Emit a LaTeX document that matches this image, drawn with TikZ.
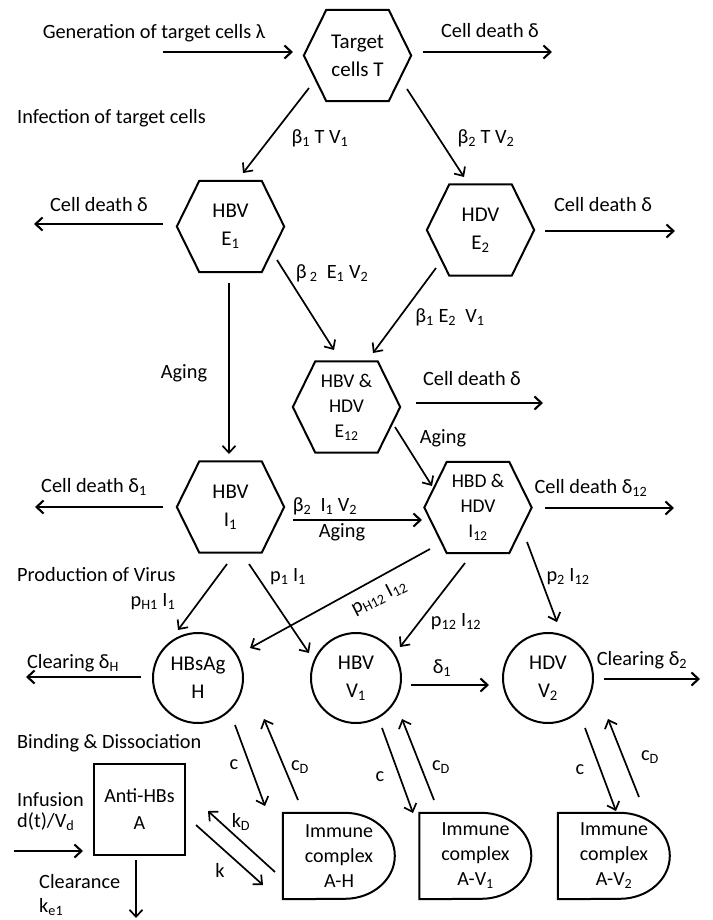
\documentclass[tikz,border=0pt]{standalone}
\usepackage{fontspec}
\setmainfont{Carlito}
\usetikzlibrary{arrows.meta,calc}
\newcommand\sbs[1]{\textsubscript{#1}}
\newcommand\hexdraw[1]{\draw[shapeline] (#1.west) -- ([xshift=22.5pt]#1.north west) -- ([xshift=-22.5pt]#1.north east) -- (#1.east) -- ([xshift=-22.5pt]#1.south east) -- ([xshift=22.5pt]#1.south west) -- cycle;}
\newcommand\ddraw[1]{\draw[shapeline] (#1.north west) -- ++(62,0) arc[start angle=90,end angle=-90,x radius=50,y radius=43] -- (#1.south west) -- cycle;}
\tikzset{
  shapeline/.style={line width=2pt,line join=miter},
  hexn/.style={rectangle,minimum width=107pt,minimum height=91pt,inner sep=0pt,align=center,font=\fontsize{21}{28}\selectfont},
  hexs/.style={hexn,font=\fontsize{19.5}{25}\selectfont},
  circn/.style={circle,draw,line width=2pt,minimum size=90pt,inner sep=0pt,align=center,font=\fontsize{21}{28}\selectfont},
  boxn/.style={rectangle,draw,line width=2pt,minimum width=91pt,minimum height=91pt,inner sep=0pt,align=center,font=\fontsize{20}{27}\selectfont},
  dn/.style={rectangle,minimum width=112pt,minimum height=86pt,inner sep=0pt,align=center,font=\fontsize{20}{25}\selectfont},
  lab/.style={inner sep=0pt,font=\fontsize{20.3}{22}\selectfont},
  arr/.style={line width=1.7pt,-{Straight Barb[length=7pt,width=13pt,line width=1.7pt]}},
  arrb/.style={line width=2.3pt,-{Straight Barb[length=7pt,width=13pt,line width=2.1pt]}},
}
\begin{document}
\begin{tikzpicture}[x=1pt,y=1pt]
\useasboundingbox (0,0) rectangle (712,-920);
% nodes
\node[hexn] (T) at (357.5,-55.5) {Target\\cells T};
\node[hexn] (E1) at (230.5,-226.5) {HBV\\E\sbs{1}};
\node[hexn] (E2) at (480.5,-230) {HDV\\E\sbs{2}};
\node[hexs] (E12) at (346.5,-407) {HBV \&\\HDV\\E\sbs{12}};
\node[hexn] (I1) at (230.5,-507) {HBV\\I\sbs{1}};
\node[hexs] (I12) at (478,-507.5) {HBD \&\\HDV\\I\sbs{12}};
\foreach \n in {T,E1,E2,E12,I1,I12} {\hexdraw{\n}}
\node[circn] (H) at (198,-678) {HBsAg\\H};
\node[circn] (V1) at (356,-678) {HBV\\V\sbs{1}};
\node[circn] (V2) at (548,-678) {HDV\\V\sbs{2}};
\node[boxn] (A) at (139.5,-809.5) {Anti-HBs\\A};
\node[dn] (AH) at (339,-856) {Immune\\complex\\A-H};
\node[dn] (AV1) at (475.5,-856) {Immune\\complex\\A-V\sbs{1}};
\node[dn] (AV2) at (614,-856) {Immune\\complex\\A-V\sbs{2}};
\foreach \n in {AH,AV1,AV2} {\ddraw{\n}}
% free ends
\coordinate (gen) at (163,-52);
\coordinate (dT) at (552,-52);
\coordinate (dE1) at (34,-224);
\coordinate (dE2) at (675,-231);
\coordinate (dE12) at (543,-403);
\coordinate (dI1) at (35,-507);
\coordinate (dI12) at (674,-508);
\coordinate (cH) at (26,-677);
\coordinate (cV2) at (700,-679);
\coordinate (inf) at (14,-851);
\coordinate (clr) at (136,-918);
% connectors
\draw[arrb] (gen) -- ($(T)+(-64.5,3.5)$);
\draw[arrb] ($(T)+(65.5,3.5)$) -- (dT);
\draw[arr] ($(T)+(-48.5,-32.5)$) -- ($(E1)+(12.5,53.5)$);
\draw[arr] ($(T)+(49.5,-33.5)$) -- ($(E2)+(-16.5,53)$);
\draw[arrb] ($(E1)+(-67.5,2.5)$) -- (dE1);
\draw[arrb] ($(E2)+(64.5,-1)$) -- (dE2);
\draw[arr] ($(E1)+(46.5,-33.5)$) -- ($(E12)+(-12.5,57)$);
\draw[arr] ($(E2)+(-44.5,-38)$) -- ($(E12)+(26.5,54)$);
\draw[arr] ($(E1)+(-1.5,-56.5)$) -- ($(I1)+(-1.5,53)$);
\draw[arrb] ($(E12)+(69.5,4)$) -- (dE12);
\draw[arr] ($(E12)+(48.5,-20)$) -- ($(I12)+(-46,21.5)$);
\draw[arrb] ($(I1)+(-67.5,0)$) -- (dI1);
\draw[arrb] ($(I1)+(62.5,-13)$) -- ($(I12)+(-56,-12.5)$);
\draw[arrb] ($(I12)+(67,-0.5)$) -- (dI12);
\draw[arr] ($(I1)+(-3.5,-57)$) -- ($(H)+(-20,48)$);
\draw[arr] ($(I1)+(18.5,-57)$) -- ($(V1)+(-47,25)$);
\draw[arr] ($(I12)+(-48,-41.5)$) -- ($(H)+(52,30)$);
\draw[arr] ($(I12)+(-13,-55.5)$) -- ($(V1)+(44,31)$);
\draw[arr] ($(I12)+(49,-34.5)$) -- ($(V2)+(9,56)$);
\draw[arrb] ($(H)+(-57,1)$) -- (cH);
\draw[arrb] ($(V1)+(55,-7)$) -- ($(V2)+(-59,-7)$);
\draw[arrb] ($(V2)+(56,-1)$) -- (cV2);
\draw[arr] ($(H)+(37,-47)$) -- ($(AH)+(-74,50)$);
\draw[arr] ($(AH)+(-41,56)$) -- ($(H)+(66,-41)$);
\draw[arr] ($(V1)+(26,-50)$) -- ($(AV1)+(-62.5,43)$);
\draw[arr] ($(AV1)+(-41.5,56)$) -- ($(V1)+(46,-41)$);
\draw[arr] ($(V2)+(37,-50)$) -- ($(AV2)+(2,45)$);
\draw[arr] ($(AV2)+(25,59)$) -- ($(V2)+(60,-41)$);
\draw[arrb] (inf) -- ($(A)+(-56.5,-41.5)$);
\draw[arr] ($(A)+(-3.5,-50.5)$) -- (clr);
\draw[arr] ($(AH)+(-64,-16)$) -- ($(A)+(68.5,-1.5)$);
\draw[arr] ($(A)+(56.5,-15.5)$) -- ($(AH)+(-76,-29)$);
% labels
\node[lab] (l1) at (154,-33) {Generation of target cells λ};
\node[lab] (l2) at (490,-31) {Cell death δ};
\node[lab,anchor=west] (l3) at (17,-118) {Infection of target cells};
\node[lab] (l4) at (320,-138) {β\sbs{1} T V\sbs{1}};
\node[lab] (l5) at (486,-138) {β\sbs{2} T V\sbs{2}};
\node[lab] (l6) at (99,-205) {Cell death δ};
\node[lab] (l7) at (603,-205) {Cell death δ};
\node[lab] (l8) at (332,-273) {β\,\sbs{2}\ \ E\sbs{1} V\sbs{2}};
\node[lab] (l9) at (450,-317) {β\sbs{1} E\sbs{2}\ \ V\sbs{1}};
\node[lab] (l10) at (184,-373) {Aging};
\node[lab] (l11) at (472,-379) {Cell death δ};
\node[lab] (l12) at (443,-438) {Aging};
\node[lab] (l13) at (94,-487) {Cell death δ\sbs{1}};
\node[lab] (l14) at (325,-506) {β\sbs{2}\ \ I\sbs{1} V\sbs{2}};
\node[lab] (l15) at (342,-532) {Aging};
\node[lab] (l16) at (591,-488) {Cell death δ\sbs{12}};
\node[lab,anchor=west] (l17) at (17,-575) {Production of Virus};
\node[lab] (l18) at (153,-602) {p\sbs{H1} I\sbs{1}};
\node[lab] (l19) at (288,-577) {p\sbs{1} I\sbs{1}};
\node[lab,rotate=27] (l20) at (379,-597) {p\sbs{H12} I\sbs{12}};
\node[lab] (l21) at (456,-622) {p\sbs{12} I\sbs{12}};
\node[lab] (l22) at (568,-577) {p\sbs{2} I\sbs{12}};
\node[lab] (l23) at (73,-663) {Clearing δ\sbs{H}};
\node[lab] (l24) at (442,-668) {δ\sbs{1}};
\node[lab] (l25) at (642,-660) {Clearing δ\sbs{2}};
\node[lab,anchor=west] (l26) at (17,-743) {Binding \& Dissociation};
\node[lab] (l27) at (234,-765) {c};
\node[lab] (l28) at (300,-767) {c\sbs{D}};
\node[lab] (l29) at (380,-777) {c};
\node[lab] (l30) at (441,-767) {c\sbs{D}};
\node[lab] (l31) at (580,-770) {c};
\node[lab] (l32) at (650,-757) {c\sbs{D}};
\node[lab,anchor=west] (l33) at (17,-800) {Infusion};
\node[lab,anchor=west] (l34) at (17,-822) {d(t)/V\sbs{d}};
\node[lab] (l35) at (241,-822) {k\sbs{D}};
\node[lab] (l36) at (220,-870) {k};
\node[lab,anchor=west] (l37) at (39,-882) {Clearance};
\node[lab,anchor=west] (l38) at (39,-907) {k\sbs{e1}};
\end{tikzpicture}
\end{document}
